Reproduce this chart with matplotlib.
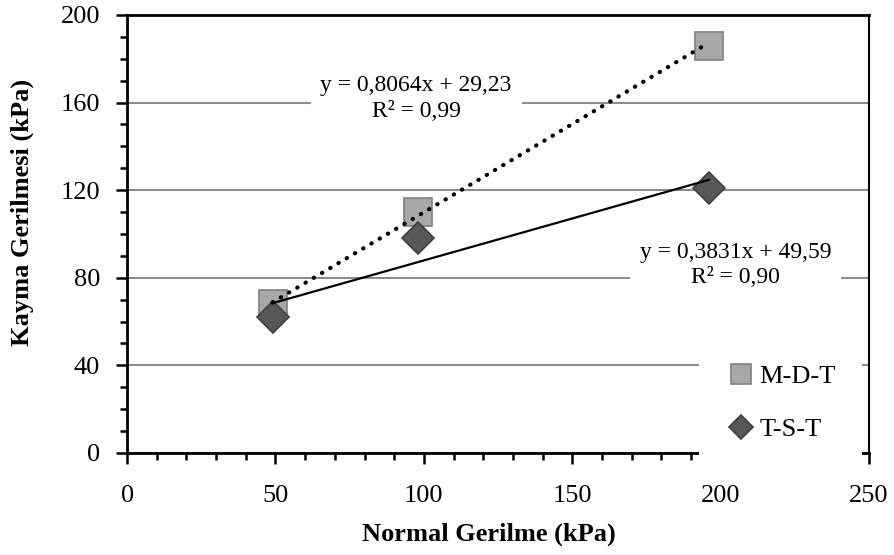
"""Kayma gerilmesi - normal gerilme grafiği (M-D-T ve T-S-T)"""

import numpy as np
from matplotlib import pyplot as plt
from matplotlib.ticker import MultipleLocator

plt.rcParams["font.family"] = ["Liberation Serif", "DejaVu Serif"]

# veriler
normal_stress = [49, 98, 196]
mdt_shear = [68, 110, 186]
tst_shear = [62, 98, 121]

# trend çizgisi katsayıları (eğim, kesişim)
mdt_fit = [0.8064, 29.23]
tst_fit = [0.3831, 49.59]
mdt_label = "y = 0,8064x + 29,23\nR² = 0,99"
tst_label = "y = 0,3831x + 49,59\nR² = 0,90"

fig = plt.figure(figsize=(8.95, 5.55), dpi=100)
ax = fig.add_axes([0.142, 0.184, 0.829, 0.789])

fs = 19

ax.yaxis.grid(True, color="#8c8c8c", linewidth=1.5, zorder=0)
ax.set_axisbelow(True)

ax.plot(normal_stress, mdt_shear, "s", markersize=20,
        markerfacecolor="#a8a8a8", markeredgecolor="#808080",
        markeredgewidth=1.2, label="M-D-T", zorder=3)
ax.plot(normal_stress, tst_shear, "D", markersize=16,
        markerfacecolor="#585858", markeredgecolor="#404040",
        markeredgewidth=1.2, label="T-S-T", zorder=4)

xs = np.array([normal_stress[0], normal_stress[-1]])
ax.plot(xs, mdt_fit[0] * xs + mdt_fit[1], color="black", linewidth=3,
        linestyle=(0, (0.1, 2.2)), dash_capstyle="round", zorder=5)
ax.plot(xs, tst_fit[0] * xs + tst_fit[1], color="black", linewidth=1.6,
        zorder=5)

box = dict(facecolor="white", edgecolor="none", pad=7)
ax.text(97.4, 162.0, mdt_label, ha="center", va="center", fontsize=17,
        linespacing=1.3, bbox=box, zorder=6)
ax.text(205, 85.8, tst_label, ha="center", va="center", fontsize=17,
        linespacing=1.3, bbox=box, zorder=6)

ax.set_xlim(0, 250)
ax.set_ylim(0, 200)
ax.xaxis.set_major_locator(MultipleLocator(50))
ax.xaxis.set_minor_locator(MultipleLocator(10))
ax.yaxis.set_major_locator(MultipleLocator(40))
ax.yaxis.set_minor_locator(MultipleLocator(10))
ax.tick_params(which="major", direction="out", length=8, width=1.8,
               labelsize=fs)
ax.tick_params(which="minor", direction="out", length=5, width=1.8)
ax.tick_params(axis="x", which="major", pad=15)
ax.tick_params(axis="y", which="major", pad=11.5)

for side in ["left", "bottom", "top"]:
    ax.spines[side].set_linewidth(2)
ax.spines["right"].set_linewidth(1.5)

ax.set_xlabel("Normal Gerilme (kPa)", fontsize=fs, fontweight="bold")
ax.set_ylabel("Kayma Gerilmesi (kPa)", fontsize=fs, fontweight="bold")
ax.xaxis.set_label_coords(0.487, -0.187)
ax.yaxis.set_label_coords(-0.1415, 0.548)
ax.xaxis.label.set_va("center")
ax.yaxis.label.set_va("center")

leg = ax.legend(loc="center", bbox_to_anchor=(0.881, 0.115),
                fontsize=fs, frameon=True, framealpha=1, edgecolor="none",
                handletextpad=0.1, labelspacing=1.12, borderpad=1.0,
                markerscale=0.75, handlelength=1.2)
leg.get_frame().set_boxstyle("square", pad=0)

fig.savefig("out.png", dpi=100)
